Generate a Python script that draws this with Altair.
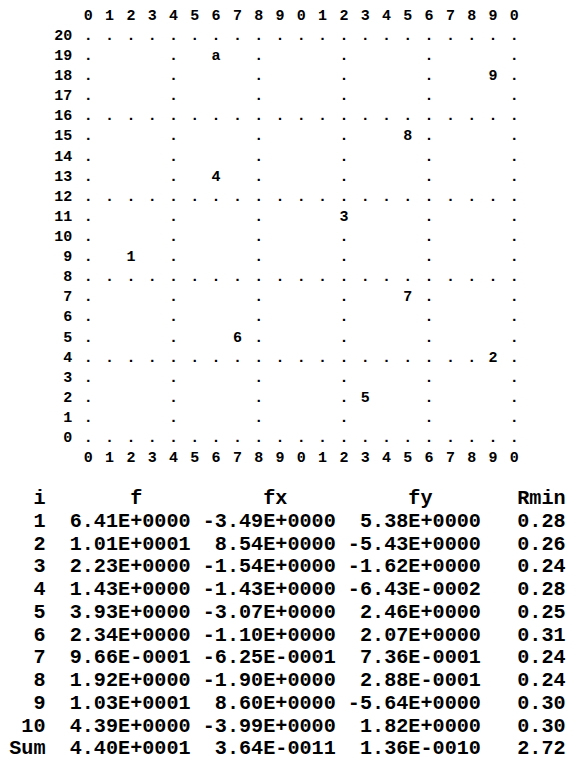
import altair as alt
import pandas as pd

# ---- grid data ----
grid_size = 20
label_chars = ["1", "2", "3", "4", "5", "6", "7", "8", "9", "a"]
label_cols = [2, 19, 12, 6, 13, 7, 15, 15, 19, 6]
label_rows = [9, 4, 11, 13, 2, 5, 7, 15, 18, 19]

# ---- table data ----
idx = [1, 2, 3, 4, 5, 6, 7, 8, 9, 10]
f_vals = [6.41, 10.1, 2.23, 1.43, 3.93, 2.34, 0.966, 1.92, 10.3, 4.39]
fx_vals = [-3.49, 8.54, -1.54, -1.43, -3.07, -1.10, -0.625, -1.90, 8.60, -3.99]
fy_vals = [5.38, -5.43, -1.62, -0.0643, 2.46, 2.07, 0.736, 0.288, -5.64, 1.82]
rmin_vals = [0.28, 0.26, 0.24, 0.28, 0.25, 0.31, 0.24, 0.24, 0.30, 0.30]
sum_row = [44.0, 3.64e-11, 1.36e-10, 2.72]


def fmt(v):
    s = f"{v:.2E}"
    mant, exp = s.split("E")
    return f"{mant}E{exp[0]}{int(exp[1:]):04d}"


NB = "\u00a0"

# grid points
labels = {(c, r): ch for c, r, ch in zip(label_cols, label_rows, label_chars)}
rows = []
for r in range(grid_size + 1):
    for c in range(grid_size + 1):
        if (c, r) in labels:
            rows.append({"c": c, "r": r, "t": labels[(c, r)]})
        elif r % 4 == 0 or c % 4 == 0:
            rows.append({"c": c, "r": r, "t": "."})
for c in range(grid_size + 1):
    rows.append({"c": c, "r": grid_size + 1, "t": str(c % 10)})
    rows.append({"c": c, "r": -1, "t": str(c % 10)})
grid_df = pd.DataFrame(rows)
rowlab_df = pd.DataFrame({"c": [0] * (grid_size + 1), "r": list(range(grid_size + 1)),
                          "t": [str(r) for r in range(grid_size + 1)]})

# table lines (all 46 characters wide, right-aligned)
header = "  i" + " " * 7 + "f" + " " * 10 + "fx" + " " * 10 + "fy" + " " * 7 + "Rmin"
lines = [header]
for i, f, fx, fy, rm in zip(idx, f_vals, fx_vals, fy_vals, rmin_vals):
    lines.append(f"{i:>3}  {fmt(f)}{fmt(fx):>12}{fmt(fy):>12}{rm:>7.2f}")
lines.append(f"Sum  {fmt(sum_row[0])}{fmt(sum_row[1]):>12}{fmt(sum_row[2]):>12}{sum_row[3]:>7.2f}")
table_df = pd.DataFrame({"k": list(range(len(lines))), "t": [l.replace(" ", NB) for l in lines]})

xs = alt.Scale(domain=[-3.770, 22.521])
ys = alt.Scale(domain=[-15.572, 21.592])
gfont = dict(font="Liberation Mono", fontWeight="bold", fontSize=15, color="black",
             baseline="alphabetic")

grid = alt.Chart(grid_df).mark_text(align="center", **gfont).encode(
    x=alt.X("c:Q", scale=xs, axis=None),
    y=alt.Y("r:Q", scale=ys, axis=None),
    text="t:N",
)
rowlab = alt.Chart(rowlab_df).mark_text(align="right", dx=-16, **gfont).encode(
    x=alt.X("c:Q", scale=xs, axis=None),
    y=alt.Y("r:Q", scale=ys, axis=None),
    text="t:N",
)
# line k baseline at 496 + 22.77*k (chart px)
table = alt.Chart(table_df).mark_text(
    align="right", baseline="alphabetic", font="Liberation Mono", fontWeight="bold",
    fontSize=20.17, color="black"
).encode(
    x=alt.value(557.6),
    y=alt.Y("k:Q", scale=alt.Scale(domain=[-21.783, 11.023], reverse=True), axis=None),
    text="t:N",
)

chart = alt.layer(grid, rowlab, table).resolve_scale(x="independent", y="independent").properties(
    width=560, height=747, padding=0, autosize=alt.AutoSizeParams(type="none")
).configure_view(strokeWidth=0)

chart.save("out.html", embed_options={"renderer": "svg", "actions": False})
